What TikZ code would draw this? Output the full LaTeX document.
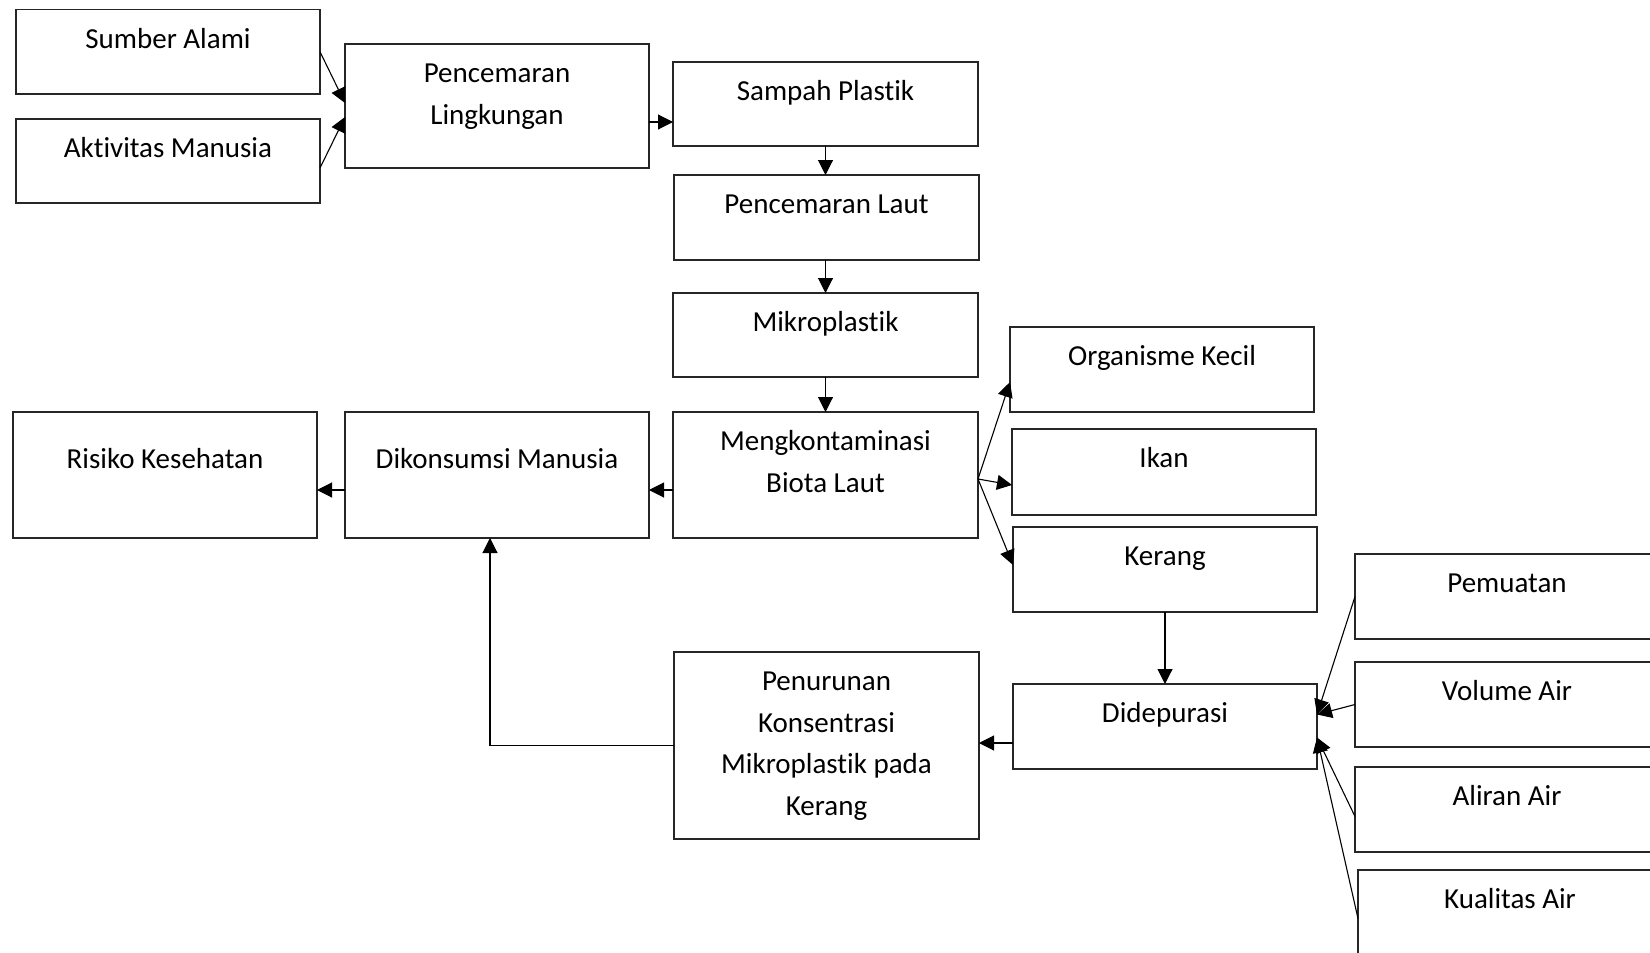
\documentclass[tikz,border=0pt]{standalone}
\usepackage{fontspec}
\setmainfont{Carlito}[Ligatures={NoCommon}]
\usetikzlibrary{arrows.meta}
\newcommand{\mybx}[7][38.5]{%
  \node[bx, anchor=north west] (#2) at (#3,#4)
    {\parbox[b][#6pt][t]{#5pt}{\centering\rule{0pt}{#1pt}#7}};}
\begin{document}
\begin{tikzpicture}[x=1pt,y=-1pt,
  bx/.style={draw=black!85, line width=1.1pt, inner sep=0pt, outer sep=0pt,
    font=\fontsize{29}{41.5}\selectfont},
  arr/.style={draw=black, line width=1.1pt, -{Triangle[length=15pt,width=15pt]}},
  ln/.style={draw=black, line width=1.1pt}]
\useasboundingbox (0,0) rectangle (1650,953);
\clip (0,0) rectangle (1650,953);
\fill[white] (0,0) rectangle (1650,953);
\mybx{sumber}{16}{9.5}{304}{84.5}{Sumber Alami}
\mybx{aktiv}{16}{119}{304}{84}{Aktivitas Manusia}
\mybx{lingk}{345}{44}{304}{124}{Pencemaran\\Lingkungan}
\mybx{sampah}{673}{62}{305}{84}{Sampah Plastik}
\mybx{laut}{674}{175}{305}{85}{Pencemaran Laut}
\mybx{mikro}{673}{293}{305}{84}{Mikroplastik}
\mybx{biota}{673}{412}{305}{126}{Mengkontaminasi\\Biota Laut}
\mybx[56.5]{konsumsi}{345}{412}{304}{126}{Dikonsumsi Manusia}
\mybx[56.5]{risiko}{13}{412}{304}{126}{Risiko Kesehatan}
\mybx{organ}{1010}{327}{304}{85}{Organisme Kecil}
\mybx{ikan}{1012}{429}{304}{86}{Ikan}
\mybx{kerang}{1013}{527}{304}{85}{Kerang}
\mybx{depur}{1013}{684}{304}{85}{Didepurasi}
\mybx{turun}{674}{652}{305}{187}{Penurunan\\Konsentrasi\\Mikroplastik pada\\Kerang}
\mybx{pemuat}{1355}{554}{304}{85}{Pemuatan}
\mybx{volume}{1355}{662}{304}{85}{Volume Air}
\mybx{aliran}{1355}{767}{304}{85}{Aliran Air}
\mybx{kualitas}{1358}{870}{304}{97}{Kualitas Air}
% connectors
\draw[arr] (sumber.east) -- ([yshift=3pt]lingk.west);
\draw[arr] ([yshift=-7pt]aktiv.east) -- ([yshift=-11pt]lingk.west);
\draw[arr] ([yshift=-16pt]lingk.east) -- ([yshift=-16pt]lingk.east -| sampah.west);
\draw[arr] (sampah.south) -- (sampah.south |- laut.north);
\draw[arr] (laut.south -| mikro.north) -- (mikro.north);
\draw[arr] (mikro.south) -- (biota.north);
\draw[arr] ([yshift=-15pt]biota.west) -- ([yshift=-15pt]biota.west -| konsumsi.east);
\draw[arr] ([yshift=-15pt]konsumsi.west) -- ([yshift=-15pt]konsumsi.west -| risiko.east);
\draw[arr] ([yshift=-4pt]biota.east) -- ([yshift=-12.5pt]organ.west);
\draw[arr] ([yshift=-4pt]biota.east) -- ([yshift=-13pt]ikan.west);
\draw[arr] ([yshift=-4pt]biota.east) -- ([yshift=4.5pt]kerang.west);
\draw[arr] (kerang.south) -- (depur.north);
\draw[arr] ([yshift=-16.5pt]depur.west) -- ([yshift=-16.5pt]depur.west -| turun.east);
\draw[arr] (turun.west) -| ([xshift=-7pt]konsumsi.south);
\draw[arr] (pemuat.west) -- ([yshift=12pt]depur.east);
\draw[arr] (volume.west) -- ([yshift=12pt]depur.east);
\draw[arr] ([yshift=-7pt]aliran.west) -- ([yshift=-11pt]depur.east);
\draw[arr] (kualitas.west) -- ([yshift=-11pt]depur.east);
\end{tikzpicture}
\end{document}
